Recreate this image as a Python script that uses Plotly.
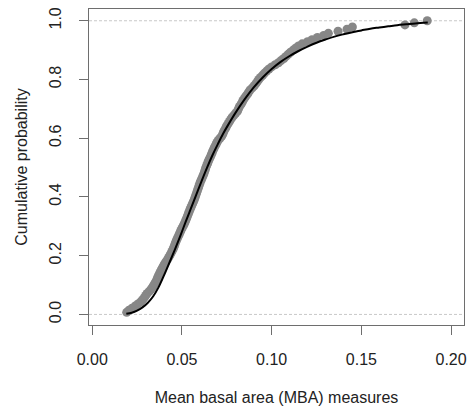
import plotly.express as px
import plotly.graph_objects as go

mba = [
    0.0192, 0.0205, 0.0222, 0.0240, 0.0255, 0.0270, 0.0281, 0.0290, 0.0298, 0.0306,
    0.0318, 0.0328, 0.0336, 0.0343, 0.0350, 0.0357, 0.0362, 0.0367, 0.0372, 0.0378,
    0.0384, 0.0390, 0.0396, 0.0402, 0.0410, 0.0418, 0.0425, 0.0432, 0.0438, 0.0444,
    0.0450, 0.0455, 0.0459, 0.0463, 0.0468, 0.0473, 0.0478, 0.0484, 0.0489, 0.0494,
    0.0500, 0.0506, 0.0512, 0.0517, 0.0522, 0.0527, 0.0531, 0.0536, 0.0540, 0.0545,
    0.0550, 0.0555, 0.0560, 0.0565, 0.0570, 0.0574, 0.0578, 0.0582, 0.0586, 0.0590,
    0.0594, 0.0598, 0.0602, 0.0607, 0.0612, 0.0617, 0.0622, 0.0626, 0.0630, 0.0633,
    0.0638, 0.0643, 0.0647, 0.0652, 0.0658, 0.0663, 0.0668, 0.0672, 0.0678, 0.0683,
    0.0690, 0.0695, 0.0702, 0.0712, 0.0722, 0.0728, 0.0732, 0.0738, 0.0745, 0.0750,
    0.0758, 0.0765, 0.0772, 0.0780, 0.0790, 0.0800, 0.0810, 0.0815, 0.0820, 0.0828,
    0.0835, 0.0840, 0.0848, 0.0856, 0.0865, 0.0872, 0.0880, 0.0892, 0.0903, 0.0912,
    0.0920, 0.0928, 0.0938, 0.0950, 0.0960, 0.0972, 0.0985, 0.1000, 0.1020, 0.1038,
    0.1052, 0.1068, 0.1080, 0.1092, 0.1105, 0.1120, 0.1135, 0.1150, 0.1170, 0.1200,
    0.1225, 0.1255, 0.1290, 0.1316, 0.1370, 0.1420, 0.1450, 0.1743, 0.1795, 0.1867,
]

# Fitted cumulative distribution curve
fit_x = [0.019, 0.022, 0.025, 0.028, 0.031, 0.034, 0.037, 0.040, 0.043, 0.046,
         0.049, 0.052, 0.055, 0.058, 0.061, 0.064, 0.067, 0.070, 0.073, 0.076,
         0.080, 0.085, 0.090, 0.095, 0.100, 0.105, 0.110, 0.115, 0.120, 0.125,
         0.130, 0.135, 0.140, 0.145, 0.150, 0.155, 0.160, 0.165, 0.170, 0.175,
         0.180, 0.187]
fit_y = [0.002, 0.006, 0.013, 0.024, 0.040, 0.062, 0.093, 0.133, 0.176, 0.220,
         0.266, 0.314, 0.361, 0.408, 0.455, 0.500, 0.542, 0.580, 0.616, 0.648,
         0.688, 0.733, 0.773, 0.807, 0.836, 0.860, 0.880, 0.897, 0.912, 0.925,
         0.936, 0.946, 0.954, 0.961, 0.967, 0.973, 0.977, 0.981, 0.985, 0.988,
         0.991, 0.994]

x_ticks = [0.00, 0.05, 0.10, 0.15, 0.20]
x_tick_text = ["0.00", "0.05", "0.10", "0.15", "0.20"]
y_ticks = [0.0, 0.2, 0.4, 0.6, 0.8, 1.0]
y_tick_text = ["0.0", "0.2", "0.4", "0.6", "0.8", "1.0"]
ref_levels = [0.0, 1.0]

fig = px.ecdf(x=mba, markers=True, lines=False)
fig.update_traces(marker=dict(color="#878787", size=9, line=dict(width=0)),
                  showlegend=False)
fig.add_trace(go.Scatter(x=fit_x, y=fit_y, mode="lines", line_shape="spline",
                         line=dict(color="black", width=2), showlegend=False))

for lv in ref_levels:
    fig.add_shape(type="line", xref="paper", x0=0, x1=1, yref="y", y0=lv, y1=lv,
                  line=dict(color="#c8c8c8", width=1, dash="3px,2px"), layer="below")

axis_common = dict(showgrid=False, zeroline=False, showline=True, mirror=True,
                   linecolor="#6e6e6e", linewidth=1, ticks="outside", ticklen=9,
                   tickcolor="#6e6e6e", tickwidth=1, automargin=False,
                   tickfont=dict(family="Liberation Sans, Arial", size=16, color="#222"))

fig.update_layout(
    width=468, height=409,
    template="none",
    paper_bgcolor="white", plot_bgcolor="white",
    margin=dict(l=89, r=4, t=9, b=84),
    showlegend=False,
    font=dict(family="Liberation Sans, Arial", size=16, color="#222"),
    xaxis=dict(axis_common, range=[-0.0018, 0.2072], tickvals=x_ticks,
               ticktext=x_tick_text, ticklabelstandoff=11,
               title=dict(text="Mean basal area (MBA) measures", standoff=24,
                          font=dict(size=16, color="#222"))),
    yaxis=dict(axis_common, range=[-0.036, 1.04], tickvals=y_ticks,
               ticktext=y_tick_text, tickangle=-90, ticklabelstandoff=12,
               title=dict(text="Cumulative probability", standoff=14,
                          font=dict(size=16, color="#222"))),
)

fig.write_html("out.html",
               config={"displayModeBar": False, "staticPlot": True},
               post_script="document.body.style.margin='0';document.body.style.padding='0';")
